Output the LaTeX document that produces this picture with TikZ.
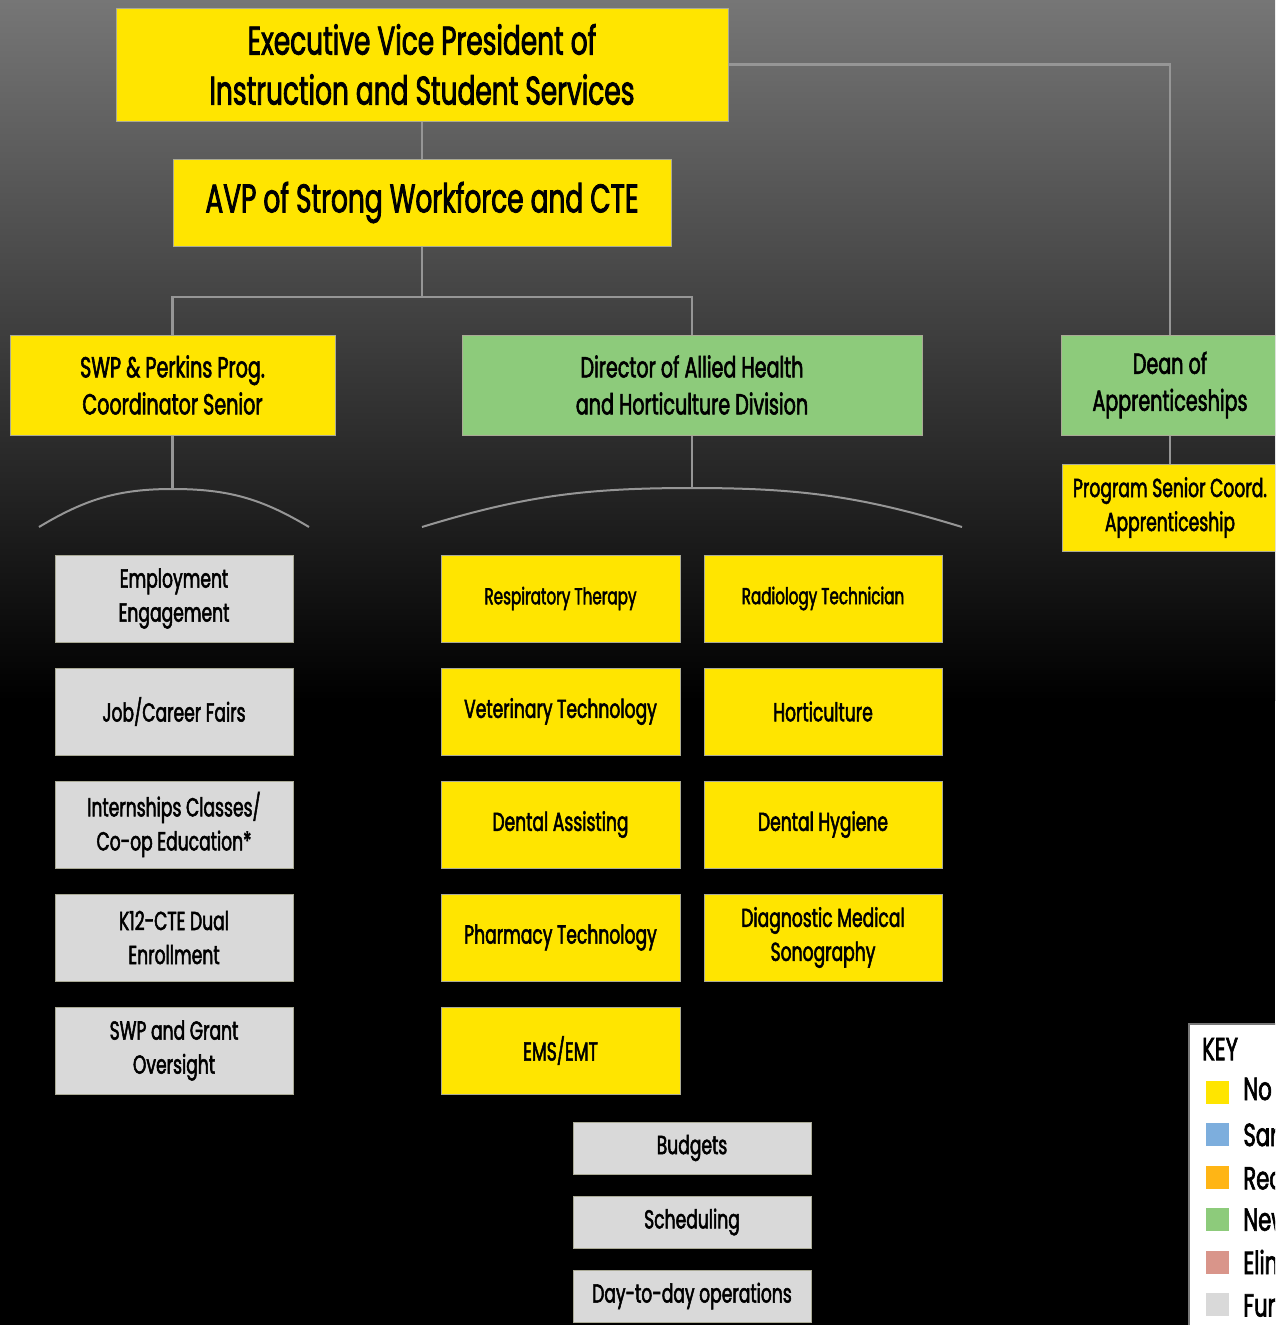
\documentclass[tikz,border=0pt]{standalone}
\usepackage{fontspec}
\setmainfont{Poppins}[FakeStretch=0.66, FakeBold=2]
\usetikzlibrary{positioning}

\definecolor{boxyellow}{RGB}{255,229,0}
\definecolor{boxgreen}{RGB}{141,203,123}
\definecolor{boxgray}{RGB}{217,217,217}
\definecolor{boxedge}{RGB}{170,170,150}
\definecolor{linegray}{RGB}{150,150,150}
\definecolor{keyblue}{RGB}{125,174,221}
\definecolor{keyorange}{RGB}{255,181,21}
\definecolor{keypink}{RGB}{217,149,138}
\definecolor{keyedge}{RGB}{120,120,120}
\definecolor{bgtop}{RGB}{118,118,118}

\begin{document}
\begin{tikzpicture}[x=1pt, y=1pt,
    every node/.style={align=center, inner sep=0pt, text=black},
    ybox/.style={rectangle, draw=boxedge, fill=boxyellow, line width=1pt},
    gbox/.style={rectangle, draw=boxedge, fill=boxgreen, line width=1pt},
    fbox/.style={rectangle, draw=boxedge, fill=boxgray, line width=1pt},
    link/.style={draw=linegray, line width=2.5pt},
    fan/.style={draw=linegray, line width=2pt},
    hugefont/.style={font=\fontsize{40}{50}\selectfont},
    bigfont/.style={font=\fontsize{29}{37}\selectfont},
    keyfont/.style={font=\fontsize{32}{37}\selectfont},
    smallfont/.style={font=\fontsize{26}{34}\selectfont},
    tinyfont/.style={font=\fontsize{23}{30}\selectfont}]

    \useasboundingbox (0,0) rectangle (1275,-1325);
    \clip (0,0) rectangle (1275,-1325);
    \fill[black] (0,0) rectangle (1275,-1325);
    \shade[top color=bgtop, bottom color=black] (0,0) rectangle (1275,-700);

    % top of the chart
    \node (evp) at (422,-64.5) [ybox, minimum width=612, minimum height=113, hugefont] {Executive Vice President of\\Instruction and Student Services};
    \node (avp) at (422,-202.5) [ybox, minimum width=498, minimum height=87, hugefont] {AVP of Strong Workforce and CTE};

    \node (swp) at (172.5,-385) [ybox, minimum width=325, minimum height=100, bigfont] {SWP \& Perkins Prog.\\Coordinator Senior};
    \node (dir) at (692,-385) [gbox, minimum width=460, minimum height=100, bigfont] {Director of Allied Health\\and Horticulture Division};
    \node (dean) at (1170,-385) [gbox, minimum width=218, minimum height=100, bigfont] {Dean of\\Apprenticeships};
    \node (psc) at (1170,-507.5) [ybox, minimum width=216, minimum height=87, smallfont] {Program Senior Coord.\\Apprenticeship};

    \coordinate (split) at (422,-297);
    \draw[link] (evp.south) -- (avp.north);
    \draw[link] (evp.east) -| (dean.north);
    \draw[link] (dean.south) -- (psc.north);
    \draw[link] (avp.south) -- (split);
    \draw[link] (swp.north) |- (split) -| (dir.north);

    % fans
    \coordinate (swptop) at (172.5,-489);
    \coordinate (swpl) at (39,-527);
    \coordinate (swpr) at (309,-527);
    \coordinate (dirtop) at (692,-488);
    \coordinate (dirl) at (422,-527);
    \coordinate (dirr) at (962,-527);
    \draw[link] (swp.south) -- (swptop);
    \draw[link] (dir.south) -- (dirtop);
    \draw[fan] (swpl) to[out=31, in=180] (swptop) to[out=0, in=149] (swpr);
    \draw[fan] (dirl) to[out=17, in=180] (dirtop) to[out=0, in=163] (dirr);

    % functions
    \node (emp) at (174,-598.5) [fbox, minimum width=238, minimum height=87, smallfont] {Employment\\Engagement};
    \node (job) at (174,-711.5) [fbox, minimum width=238, minimum height=87, smallfont] {Job/Career Fairs};
    \node (intern) at (174,-824.5) [fbox, minimum width=238, minimum height=87, smallfont] {Internships Classes/\\Co-op Education*};
    \node (dual) at (174,-937.5) [fbox, minimum width=238, minimum height=87, smallfont] {K12-CTE Dual\\Enrollment};
    \node (grant) at (174,-1050.5) [fbox, minimum width=238, minimum height=87, smallfont] {SWP and Grant\\Oversight};

    % programs
    \node (resp) at (560.5,-598.5) [ybox, minimum width=239, minimum height=87, tinyfont] {Respiratory Therapy};
    \node (radio) at (823,-598.5) [ybox, minimum width=238, minimum height=87, tinyfont] {Radiology Technician};
    \node (vet) at (560.5,-711.5) [ybox, minimum width=239, minimum height=87, smallfont] {Veterinary Technology};
    \node (hort) at (823,-711.5) [ybox, minimum width=238, minimum height=87, smallfont] {Horticulture};
    \node (dassist) at (560.5,-824.5) [ybox, minimum width=239, minimum height=87, smallfont] {Dental Assisting};
    \node (dhyg) at (823,-824.5) [ybox, minimum width=238, minimum height=87, smallfont] {Dental Hygiene};
    \node (pharm) at (560.5,-937.5) [ybox, minimum width=239, minimum height=87, smallfont] {Pharmacy Technology};
    \node (sono) at (823,-937.5) [ybox, minimum width=238, minimum height=87, smallfont] {Diagnostic Medical\\Sonography};
    \node (ems) at (560.5,-1050.5) [ybox, minimum width=239, minimum height=87, smallfont] {EMS/EMT};

    \node (budget) at (692,-1148) [fbox, minimum width=238, minimum height=52, smallfont] {Budgets};
    \node (sched) at (692,-1222) [fbox, minimum width=238, minimum height=52, smallfont] {Scheduling};
    \node (daily) at (692,-1296) [fbox, minimum width=238, minimum height=52, smallfont] {Day-to-day operations};

    % key
    \node (key) at (1240,-1180) [rectangle, draw=keyedge, fill=white, line width=2pt, minimum width=102, minimum height=312] {};
    \node (keytitle) at (1202,-1049) [anchor=west, keyfont] {KEY};
    \foreach \c/\t [count=\i] in {boxyellow/No change, keyblue/Same, keyorange/Reclassified, boxgreen/New, keypink/Eliminated, boxgray/Function} {
        \node (sw\i) at (1217.5,{-1092.5-42.4*(\i-1)}) [rectangle, fill=\c, minimum size=23] {};
        \node (kl\i) [right=14pt of sw\i, anchor=west, keyfont] {\t};
    }
\end{tikzpicture}
\end{document}
